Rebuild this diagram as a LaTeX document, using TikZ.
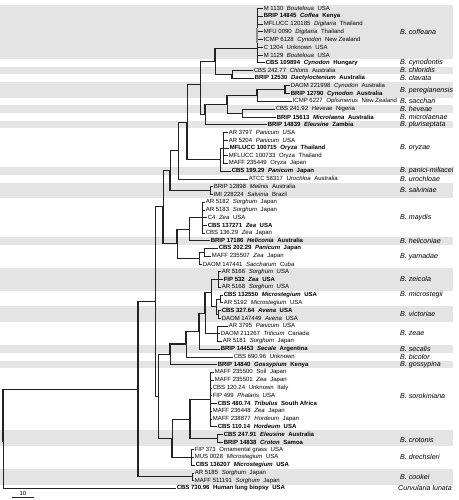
\documentclass[tikz,border=0pt]{standalone}
\usepackage{fontspec}
\setmainfont{Liberation Sans}
\usetikzlibrary{positioning,calc}
\definecolor{bandgray}{RGB}{228,228,228}
\definecolor{linegray}{RGB}{35,35,35}
\newcommand{\ry}[1]{(8.5+7.74*(#1-1))}
\newcommand{\strain}[3]{#1\hspace{0.6em}\textit{#2}\hspace{0.6em}#3}
\newcommand{\plainstrain}[3]{#1\hspace{0.6em}#2\hspace{0.6em}#3}

\tikzset{
  leaf/.style={anchor=west, inner sep=0.6pt, font=\fontsize{6}{7}\selectfont},
  typeleaf/.style={leaf, font=\fontsize{6}{7}\selectfont\bfseries},
  species/.style={anchor=west, inner sep=0pt, font=\fontsize{7.1}{8}\selectfont\itshape},
  branch/.style={draw=linegray, line width=0.45pt},
  strong/.style={draw=linegray, line width=1.1pt},
}

\begin{document}
\begin{tikzpicture}[x=1pt,y=-1pt]
\useasboundingbox (0,0) rectangle (458,500);

% grey bands for every second species
\foreach \a/\b in {1/7,9/9,11/12,14/14,16/16,22/22,24/25,31/31,35/37,40/41,45/45,47/47,56/57,61/62}
  \fill[bandgray] (0,{\ry{\a}-3.87}) rectangle (453,{\ry{\b}+3.87});

% strains
\node[leaf] (c1) at (263,{\ry{1}}) {\strain{M 1130}{Bouteloua}{USA}};
\node[typeleaf] (c2) at (263,{\ry{2}}) {\strain{BRIP 14845}{Coffea}{Kenya}};
\node[leaf] (c3) at (263,{\ry{3}}) {\strain{MFLUCC 120185}{Digitaria}{Thailand}};
\node[leaf] (c4) at (263,{\ry{4}}) {\strain{MFU 0090}{Digitaria}{Thailand}};
\node[leaf] (c5) at (263,{\ry{5}}) {\strain{ICMP 6128}{Cynodon}{New Zealand}};
\node[leaf] (c6) at (263,{\ry{6}}) {\plainstrain{C 1204}{Unknown}{USA}};
\node[leaf] (c7) at (263,{\ry{7}}) {\strain{M 1129}{Bouteloua}{USA}};
\node[typeleaf] (c8) at (265,{\ry{8}}) {\strain{CBS 109894}{Cynodon}{Hungary}};
\node[leaf] (c9) at (253,{\ry{9}}) {\strain{CBS 242.77}{Chloris}{Australia}};
\node[typeleaf] (c10) at (254,{\ry{10}}) {\strain{BRIP 12530}{Dactyloctenium}{Australia}};
\node[leaf] (c11) at (290,{\ry{11}}) {\strain{DAOM 221998}{Cynodon}{Australia}};
\node[typeleaf] (c12) at (290,{\ry{12}}) {\strain{BRIP 12790}{Cynodon}{Australia}};
\node[leaf] (c13) at (292,{\ry{13}}) {\strain{ICMP 6227}{Oplismenus}{New Zealand}};
\node[leaf] (c14) at (275,{\ry{14}}) {\strain{CBS 241.92}{Heveae}{Nigeria}};
\node[typeleaf] (c15) at (276,{\ry{15}}) {\strain{BRIP 15613}{Microlaena}{Australia}};
\node[typeleaf] (c16) at (267,{\ry{16}}) {\strain{BRIP 14839}{Eleusine}{Zambia}};
\node[leaf] (c17) at (228,{\ry{17}}) {\strain{AR 3797}{Panicum}{USA}};
\node[leaf] (c18) at (228,{\ry{18}}) {\strain{AR 5204}{Panicum}{USA}};
\node[typeleaf] (c19) at (229,{\ry{19}}) {\strain{MFLUCC 100715}{Oryza}{Thailand}};
\node[leaf] (c20) at (228,{\ry{20}}) {\plainstrain{MFLUCC 100733}{Oryza}{Thailand}};
\node[leaf] (c21) at (228,{\ry{21}}) {\plainstrain{MAFF 235449}{Oryza}{Japan}};
\node[typeleaf] (c22) at (231,{\ry{22}}) {\strain{CBS 199.29}{Panicum}{Japan}};
\node[leaf] (c23) at (248,{\ry{23}}) {\strain{ATCC 58317}{Urochloa}{Australia}};
\node[leaf] (c24) at (213,{\ry{24}}) {\strain{BRIP 12898}{Melinis}{Australia}};
\node[leaf] (c25) at (213,{\ry{25}}) {\strain{IMI 228224}{Salvinia}{Brazil}};
\node[leaf] (c26) at (205,{\ry{26}}) {\strain{AR 5182}{Sorghum}{Japan}};
\node[leaf] (c27) at (205,{\ry{27}}) {\strain{AR 5183}{Sorghum}{Japan}};
\node[leaf] (c28) at (207,{\ry{28}}) {\strain{C4}{Zea}{USA}};
\node[typeleaf] (c29) at (207,{\ry{29}}) {\strain{CBS 137271}{Zea}{USA}};
\node[leaf] (c30) at (205,{\ry{30}}) {\strain{CBS 136.29}{Zea}{Japan}};
\node[typeleaf] (c31) at (210,{\ry{31}}) {\strain{BRIP 17186}{Heliconia}{Australia}};
\node[typeleaf] (c32) at (218,{\ry{32}}) {\strain{CBS 202.29}{Panicum}{Japan}};
\node[leaf] (c33) at (211,{\ry{33}}) {\strain{MAFF 235507}{Zea}{Japan}};
\node[leaf] (c34) at (202,{\ry{34}}) {\strain{DAOM 147441}{Saccharum}{Cuba}};
\node[leaf] (c35) at (221,{\ry{35}}) {\strain{AR 5166}{Sorghum}{USA}};
\node[typeleaf] (c36) at (223,{\ry{36}}) {\strain{FIP 532}{Zea}{USA}};
\node[leaf] (c37) at (221,{\ry{37}}) {\strain{AR 5168}{Sorghum}{USA}};
\node[typeleaf] (c38) at (223,{\ry{38}}) {\strain{CBS 132550}{Microstegium}{USA}};
\node[leaf] (c39) at (223,{\ry{39}}) {\strain{AR 5192}{Microstegium}{USA}};
\node[typeleaf] (c40) at (221,{\ry{40}}) {\strain{CBS 327.64}{Avena}{USA}};
\node[leaf] (c41) at (221,{\ry{41}}) {\strain{DAOM 147449}{Avena}{USA}};
\node[leaf] (c42) at (228,{\ry{42}}) {\strain{AR 3795}{Panicum}{USA}};
\node[leaf] (c43) at (220,{\ry{43}}) {\strain{DAOM 211267}{Triticum}{Canada}};
\node[leaf] (c44) at (222,{\ry{44}}) {\strain{AR 5181}{Sorghum}{Japan}};
\node[typeleaf] (c45) at (220,{\ry{45}}) {\strain{BRIP 14453}{Secale}{Argentina}};
\node[leaf] (c46) at (233,{\ry{46}}) {CBS 690.96\hspace{0.6em}Unknown};
\node[typeleaf] (c47) at (217,{\ry{47}}) {\strain{BRIP 14840}{Gossypium}{Kenya}};
\node[leaf] (c48) at (214,{\ry{48}}) {\plainstrain{MAFF 235500}{Soil}{Japan}};
\node[leaf] (c49) at (214,{\ry{49}}) {\strain{MAFF 235501}{Zea}{Japan}};
\node[leaf] (c50) at (212,{\ry{50}}) {\plainstrain{CBS 120.24}{Unknown}{Italy}};
\node[leaf] (c51) at (212,{\ry{51}}) {\strain{FIP 499}{Phalaris}{USA}};
\node[typeleaf] (c52) at (217,{\ry{52}}) {\strain{CBS 480.74}{Tribulus}{South Africa}};
\node[leaf] (c53) at (212,{\ry{53}}) {\strain{MAFF 236448}{Zea}{Japan}};
\node[leaf] (c54) at (212,{\ry{54}}) {\strain{MAFF 238877}{Hordeum}{Japan}};
\node[typeleaf] (c55) at (217,{\ry{55}}) {\strain{CBS 110.14}{Hordeum}{USA}};
\node[typeleaf] (c56) at (223,{\ry{56}}) {\strain{CBS 247.91}{Eleusine}{Australia}};
\node[typeleaf] (c57) at (223,{\ry{57}}) {\strain{BRIP 14838}{Croton}{Samoa}};
\node[leaf] (c58) at (194,{\ry{58}}) {\plainstrain{FIP 373}{Ornamental grass}{USA}};
\node[leaf] (c59) at (194,{\ry{59}}) {\strain{MUS 0028}{Microstegium}{USA}};
\node[typeleaf] (c60) at (195,{\ry{60}}) {\strain{CBS 136207}{Microstegium}{USA}};
\node[leaf] (c61) at (194,{\ry{61}}) {\strain{AR 5185}{Sorghum}{Japan}};
\node[leaf] (c62) at (194,{\ry{62}}) {\strain{MAFF 511191}{Sorghum}{Japan}};
\node[typeleaf] (c63) at (176,{\ry{63}}) {\plainstrain{CBS 730.96}{Human lung biopsy}{USA}};

% species names
\node[species] (sp1) at (400,{\ry{4}}) {B. coffeana};
\node[species] (sp2) at (400,{\ry{8}}) {B. cynodontis};
\node[species] (sp3) at (400,{\ry{9}}) {B. chloridis};
\node[species] (sp4) at (400,{\ry{10}}) {B. clavata};
\node[species] (sp5) at (400,{\ry{11.6}}) {B. peregianensis};
\node[species] (sp6) at (400,{\ry{13}}) {B. sacchari};
\node[species] (sp7) at (400,{\ry{14}}) {B. heveae};
\node[species] (sp8) at (400,{\ry{15}}) {B. microlaenae};
\node[species] (sp9) at (400,{\ry{16}}) {B. pluriseptata};
\node[species] (sp10) at (400,{\ry{19}}) {B. oryzae};
\node[species] (sp11) at (400,{\ry{22}}) {B. panici-miliacei};
\node[species] (sp12) at (400,{\ry{23}}) {B. urochloae};
\node[species] (sp13) at (400,{\ry{24.5}}) {B. salviniae};
\node[species] (sp14) at (400,{\ry{28}}) {B. maydis};
\node[species] (sp15) at (400,{\ry{31}}) {B. heliconiae};
\node[species] (sp16) at (400,{\ry{33}}) {B. yamadae};
\node[species] (sp17) at (400,{\ry{36}}) {B. zeicola};
\node[species] (sp18) at (400,{\ry{38}}) {B. microstegii};
\node[species] (sp19) at (400,{\ry{40.5}}) {B. victoriae};
\node[species] (sp20) at (400,{\ry{43}}) {B. zeae};
\node[species] (sp21) at (400,{\ry{45}}) {B. secalis};
\node[species] (sp22) at (400,{\ry{46}}) {B. bicolor};
\node[species] (sp23) at (400,{\ry{47}}) {B. gossypina};
\node[species] (sp24) at (400,{\ry{51}}) {B. sorokiniana};
\node[species] (sp25) at (400,{\ry{56.8}}) {B. crotonis};
\node[species] (sp26) at (400,{\ry{59}}) {B. drechsleri};
\node[species] (sp27) at (400,{\ry{61.5}}) {B. cookei};
\node[species] (sp28) at (398,{\ry{63}}) {Curvularia lunata};

% inner nodes of the tree
\coordinate (cof) at (257,{\ry{6.2}});
\coordinate (cl) at (232,{\ry{9.5}});
\coordinate (A) at (215,{(\ry{6.2}+\ry{9.5})/2});
\coordinate (per) at (285,{\ry{11.5}});
\coordinate (ps) at (257,{\ry{12.25}});
\coordinate (hm) at (242,{\ry{14.5}});
\coordinate (hv) at (227,{\ry{13.4}});
\coordinate (B) at (205,{\ry{14.7}});
\coordinate (q) at (200,{\ry{10.8}});
\coordinate (ory) at (223,{\ry{19}});
\coordinate (oz) at (220,{\ry{20.5}});
\coordinate (k) at (187,{\ry{15.65}});
\coordinate (u) at (178,{\ry{19.3}});
\coordinate (salv) at (210,{\ry{24.5}});
\coordinate (s1) at (170,{\ry{21.9}});
\coordinate (may) at (202,{\ry{28}});
\coordinate (mh) at (189,{\ry{29.5}});
\coordinate (ya2) at (204,{\ry{32.5}});
\coordinate (ya) at (199,{\ry{33.25}});
\coordinate (m1) at (177,{\ry{31.4}});
\coordinate (up) at (163,{\ry{26.6}});
\coordinate (zei) at (218,{\ry{36}});
\coordinate (mic) at (220,{\ry{38.5}});
\coordinate (vic) at (218,{\ry{40.5}});
\coordinate (mv) at (216,{\ry{39.5}});
\coordinate (zm) at (211,{\ry{37.75}});
\coordinate (zae) at (217,{\ry{43}});
\coordinate (zz) at (205,{\ry{40.4}});
\coordinate (sec) at (199,{\ry{42.7}});
\coordinate (bi) at (186,{\ry{44.35}});
\coordinate (go) at (170,{\ry{45.7}});
\coordinate (sor) at (210,{\ry{51.5}});
\coordinate (cro) at (217,{\ry{56.5}});
\coordinate (sc) at (190,{\ry{54}});
\coordinate (dre) at (191,{\ry{59}});
\coordinate (sd) at (172,{\ry{56.5}});
\coordinate (lo) at (158,{\ry{51.1}});
\coordinate (n2) at (155,{\ry{38.85}});
\coordinate (coo) at (192,{\ry{61.5}});
\coordinate (n1) at (138,{\ry{50.2}});
\coordinate (root) at (3,{\ry{57}});

% branches
\draw[branch] (cof) |- (c1.west) (cof) |- (c2.west) (cof) |- (c3.west) (cof) |- (c4.west)
  (cof) |- (c5.west) (cof) |- (c6.west) (cof) |- (c7.west) (cof) |- (c8.west);
\draw[strong, draw=black!45] (257,{\ry{3.5}}) -- (257,{\ry{5.5}});
\draw[branch] (cl) |- (c9.west);
\draw[strong] (cl) |- (c10.west);
\draw[strong] (A) |- (cof);
\draw[branch] (A) |- (cl);
\draw[strong] (per) |- (c11.west) (per) |- (c12.west);
\draw[strong] (ps) |- (per);
\draw[branch] (ps) |- (c13.west);
\draw[branch] (hm) |- (c14.west) (hm) |- (c15.west);
\draw[strong] (hv) |- (ps);
\draw[branch] (hv) |- (hm);
\draw[strong] (B) |- (hv);
\draw[branch] (B) |- (c16.west);
\draw[branch] (q) |- (A) (q) |- (B);
\draw[branch] (ory) |- (c17.west) (ory) |- (c18.west) (ory) |- (c19.west)
  (ory) |- (c20.west) (ory) |- (c21.west);
\draw[branch] (oz) |- (ory) (oz) |- (c22.west);
\draw[branch] (k) |- (q);
\draw[strong] (k) |- (oz);
\draw[branch] (u) |- (k) (u) |- (c23.west);
\draw[branch] (salv) |- (c24.west) (salv) |- (c25.west);
\draw[branch] (s1) |- (u);
\draw[strong] (s1) |- (salv);
\draw[branch] (may) |- (c26.west) (may) |- (c27.west) (may) |- (c28.west)
  (may) |- (c29.west) (may) |- (c30.west);
\draw[branch] (mh) |- (may) (mh) |- (c31.west);
\draw[branch] (ya2) |- (c32.west) (ya2) |- (c33.west);
\draw[branch] (ya) |- (ya2) (ya) |- (c34.west);
\draw[strong] (m1) |- (mh);
\draw[branch] (m1) |- (ya);
\draw[branch] (up) |- (s1);
\draw[strong] (up) |- (m1);
\draw[branch] (zei) |- (c35.west) (zei) |- (c37.west);
\draw[strong] (zei) |- (c36.west);
\draw[branch] (mic) |- (c38.west) (mic) |- (c39.west);
\draw[branch] (vic) |- (c40.west) (vic) |- (c41.west);
\draw[branch] (mv) |- (mic) (mv) |- (vic);
\draw[branch] (zm) |- (zei) (zm) |- (mv);
\draw[branch] (zae) |- (c42.west) (zae) |- (c43.west) (zae) |- (c44.west);
\draw[strong] (zz) |- (zm);
\draw[branch] (zz) |- (zae);
\draw[strong] (sec) |- (zz);
\draw[branch] (sec) |- (c45.west);
\draw[strong] (bi) |- (sec);
\draw[branch] (bi) |- (c46.west);
\draw[strong] (go) |- (bi);
\draw[branch] (go) |- (c47.west);
\draw[branch] (sor) |- (c48.west) (sor) |- (c49.west) (sor) |- (c50.west) (sor) |- (c51.west)
  (sor) |- (c52.west) (sor) |- (c53.west) (sor) |- (c54.west) (sor) |- (c55.west);
\draw[branch] (cro) |- (c56.west) (cro) |- (c57.west);
\draw[strong] (sc) |- (sor) (sc) |- (cro);
\draw[branch] (dre) |- (c58.west) (dre) |- (c59.west) (dre) |- (c60.west);
\draw[branch] (sd) |- (sc);
\draw[strong] (sd) |- (dre);
\draw[branch] (lo) |- (go) (lo) |- (sd);
\draw[branch] (n2) |- (up) (n2) |- (lo);
\draw[branch] (coo) |- (c61.west) (coo) |- (c62.west);
\draw[strong] (n1) |- (n2) (n1) |- (coo);
\draw[strong] (root) |- (n1);
\draw[branch] (root) |- (c63.west);

% scale bar
\coordinate (sbl) at (12,497);
\coordinate (sbr) at (34,497);
\draw[branch] (sbl) -- (sbr);
\node[leaf, anchor=south, inner sep=0.8pt] (sblab) at ($(sbl)!0.5!(sbr)$) {10};
\end{tikzpicture}
\end{document}
